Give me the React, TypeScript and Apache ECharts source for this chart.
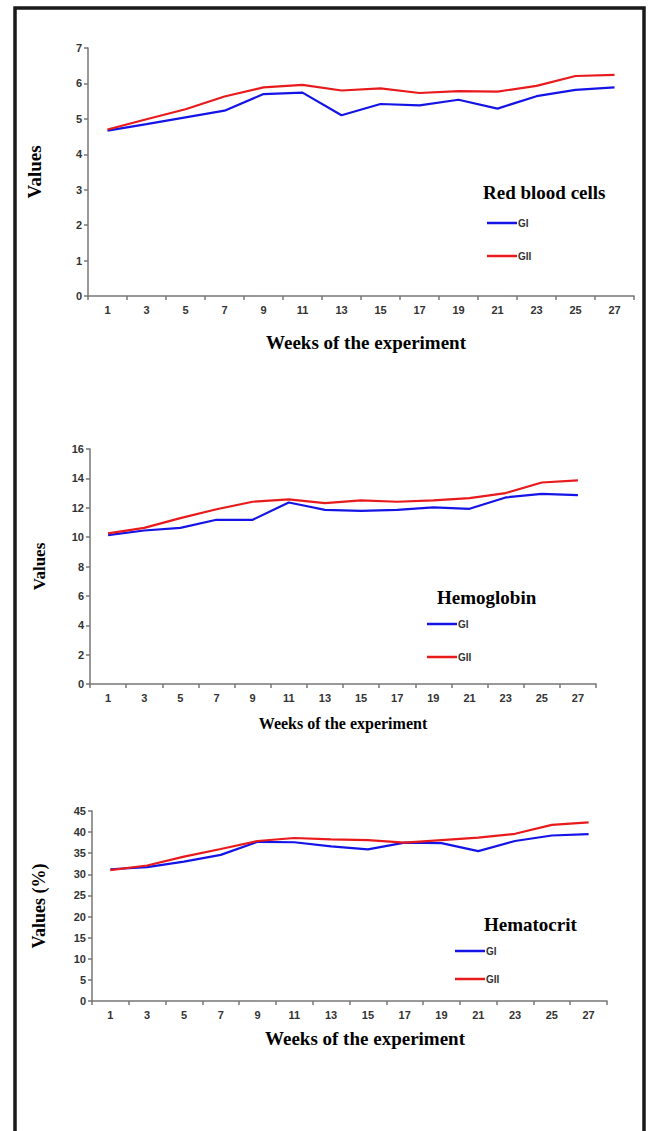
import React, { useEffect, useRef } from "react";
import * as echarts from "echarts";

const weeks = ["1", "3", "5", "7", "9", "11", "13", "15", "17", "19", "21", "23", "25", "27"];
const groupNames = ["GI", "GII"];
const rbcGI = [4.67, 4.85, 5.04, 5.23, 5.7, 5.74, 5.1, 5.42, 5.38, 5.54, 5.29, 5.64, 5.82, 5.89];
const rbcGII = [4.7, 4.99, 5.27, 5.63, 5.89, 5.96, 5.8, 5.86, 5.73, 5.78, 5.77, 5.93, 6.21, 6.24];
const hbGI = [10.14, 10.45, 10.63, 11.18, 11.18, 12.36, 11.86, 11.79, 11.86, 12.02, 11.93, 12.7, 12.95, 12.86];
const hbGII = [10.25, 10.63, 11.29, 11.9, 12.41, 12.57, 12.31, 12.5, 12.41, 12.5, 12.66, 13.0, 13.72, 13.86];
const hctGI = [31.2, 31.7, 33.0, 34.6, 37.7, 37.6, 36.6, 35.9, 37.5, 37.4, 35.5, 37.9, 39.2, 39.5];
const hctGII = [31.0, 32.1, 34.2, 36.0, 37.9, 38.6, 38.3, 38.1, 37.5, 38.1, 38.7, 39.6, 41.7, 42.3];
const panelTitles = ["Red blood cells", "Hemoglobin", "Hematocrit"];
const xTitle = "Weeks of the experiment";
const yTitles = ["Values", "Values", "Values (%)"];

const SERIF = "'Liberation Serif', 'Times New Roman', serif";
const SANS = "'Liberation Sans', Arial, sans-serif";
const BLUE = "#1414e6";
const RED = "#e81a1c";
const AXIS = "#777777";

export default function App() {
  const ref = useRef<HTMLDivElement>(null);
  useEffect(() => {
    if (!ref.current) return;
    const chart = echarts.init(ref.current, null, { renderer: "svg" });

    const grids = [
      { left: 88, top: 48, width: 546, height: 248 },
      { left: 90, top: 449, width: 506, height: 235 },
      { left: 92, top: 811, width: 515, height: 190 },
    ];
    const yMax = [7, 16, 45];
    const yInt = [1, 2, 5];
    const xNameGap = [37, 31, 28];
    const xNamePad = [[0, 0, 0, 10], [0, 0, 0, 0], [0, 0, 0, 31]];
    const yNameGap = [44, 42, 44];
    const titleFont = [19, 19, 19];
    const xTitleFont = [19, 16, 19];
    const yTitleFont = [19, 17, 18];
    const titlePos = [
      { left: 483, top: 183 },
      { left: 437, top: 588 },
      { left: 484, top: 915 },
    ];
    const legendPos = [
      { left: 487, top: 218, gap: 23 },
      { left: 427, top: 619, gap: 23 },
      { left: 455, top: 946, gap: 18 },
    ];
    const data = [
      [rbcGI, rbcGII],
      [hbGI, hbGII],
      [hctGI, hctGII],
    ];

    const option: any = {
      animation: false,
      backgroundColor: "#ffffff",
      grid: grids.map((g) => ({ ...g, containLabel: false })),
      title: panelTitles.map((t, i) => ({
        text: t,
        left: titlePos[i].left,
        top: titlePos[i].top,
        padding: 0,
        textStyle: { fontFamily: SERIF, fontWeight: "bold", fontSize: titleFont[i], color: "#000" },
      })),
      legend: legendPos.map((p) => ({
        data: groupNames,
        orient: "vertical",
        left: p.left,
        top: p.top,
        padding: 0,
        itemGap: p.gap,
        itemWidth: 30,
        itemHeight: 2.5,
        icon: "rect",
        selectedMode: false,
        textStyle: { fontFamily: SANS, fontWeight: "bold", fontSize: 10, color: "#333", padding: [0, 0, 0, -4] },
      })),
      xAxis: grids.map((_, i) => ({
        type: "category",
        gridIndex: i,
        data: weeks,
        boundaryGap: true,
        name: xTitle,
        nameLocation: "middle",
        nameGap: xNameGap[i],
        nameTextStyle: {
          fontFamily: SERIF,
          fontWeight: "bold",
          fontSize: xTitleFont[i],
          color: "#000",
          padding: xNamePad[i],
        },
        axisLine: { lineStyle: { color: AXIS, width: 1.5 } },
        axisTick: { show: true, alignWithLabel: false, interval: 0, length: 4, lineStyle: { color: AXIS, width: 1.5 } },
        axisLabel: { interval: 0, fontFamily: SANS, fontWeight: "bold", fontSize: 11, color: "#333", margin: 8 },
        splitLine: { show: false },
      })),
      yAxis: grids.map((_, i) => ({
        type: "value",
        gridIndex: i,
        min: 0,
        max: yMax[i],
        interval: yInt[i],
        name: yTitles[i],
        nameLocation: "middle",
        nameRotate: 90,
        nameGap: yNameGap[i],
        nameTextStyle: { fontFamily: SERIF, fontWeight: "bold", fontSize: yTitleFont[i], color: "#000" },
        axisLine: { show: true, lineStyle: { color: AXIS, width: 1.5 } },
        axisTick: { show: true, length: 4, lineStyle: { color: AXIS, width: 1.5 } },
        axisLabel: { fontFamily: SANS, fontWeight: "bold", fontSize: 11, color: "#333", margin: 6 },
        splitLine: { show: false },
      })),
      series: data.flatMap((pair, i) =>
        pair.map((vals, k) => ({
          type: "line",
          name: groupNames[k],
          xAxisIndex: i,
          yAxisIndex: i,
          data: vals,
          symbol: "none",
          showSymbol: false,
          lineStyle: { color: k === 0 ? BLUE : RED, width: 2.2 },
          itemStyle: { color: k === 0 ? BLUE : RED },
          z: k === 0 ? 2 : 3,
        }))
      ),
      graphic: [
        {
          type: "rect",
          shape: { x: 15, y: 8, width: 629, height: 1140 },
          style: { fill: "none", stroke: "#1a1a1a", lineWidth: 3.5 },
          z: 100,
        },
      ],
    };
    chart.setOption(option);
    return () => chart.dispose();
  }, []);
  return (
    <div
      ref={ref}
      style={{ position: "absolute", left: 0, top: 0, width: 648, height: 1131, background: "#fff" }}
    />
  );
}
